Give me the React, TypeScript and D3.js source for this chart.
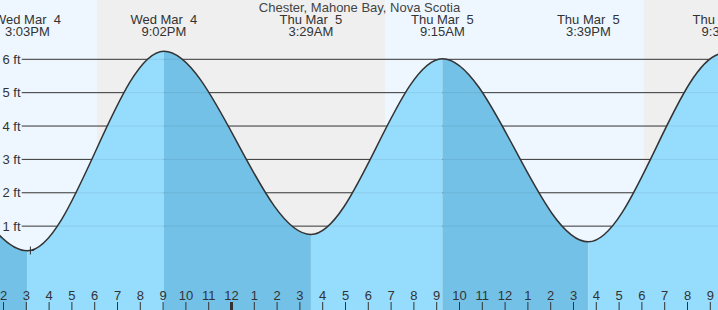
import React from "react";
import * as d3 from "d3";

// Tide extremes: time in hours after Wed Mar 4 00:00, height in ft
const extremeHours = [1.8, 8.0, 15.05, 21.033, 27.483, 33.25, 39.65, 45.6, 51.9];
const extremeHeights = [0.5, 6.0, 0.26, 6.24, 0.75, 6.02, 0.53, 6.18, 0.7];
const extremeDays = ["", "", "Wed Mar  4", "Wed Mar  4", "Thu Mar  5", "Thu Mar  5", "Thu Mar  5", "Thu Mar  5", ""];
const extremeLabels = ["", "", "3:03PM", "9:02PM", "3:29AM", "9:15AM", "3:39PM", "9:36PM", ""];

// sunset / sunrise boundaries (hours)
const sunEvents = [18.1, 30.73, 42.09];
const yTicks = [1, 2, 3, 4, 5, 6];
const hourTicks = d3.range(14, 46);
const nowHour = 15.18;

const title = "Chester, Mahone Bay, Nova Scotia";

const W = 718;
const H = 310;

export default function App() {
  const x = d3.scaleLinear().domain([14, 45]).range([3.5, 710.3]);
  const y = d3.scaleLinear().domain([0, 6]).range([259.5, 59.3]);

  const pts: [number, number][] = extremeHours.map((t, i) => [x(t), y(extremeHeights[i])]);
  const lineGen = d3.line().curve(d3.curveMonotoneX);
  const areaGen = d3.area().curve(d3.curveMonotoneX).y0(H);
  const linePath = lineGen(pts) || "";
  const areaPath = areaGen(pts) || "";

  // day/night bands
  const bands: { x0: number; x1: number; night: boolean }[] = [];
  const bounds = [-1000, ...sunEvents.map((s) => x(s)), 2000];
  for (let i = 0; i < bounds.length - 1; i++) {
    bands.push({ x0: bounds[i], x1: bounds[i + 1], night: i % 2 === 1 });
  }

  // water segments (falling darker)
  const segs = extremeHours.slice(0, -1).map((t, i) => ({
    x0: x(t),
    x1: x(extremeHours[i + 1]),
    falling: extremeHeights[i + 1] < extremeHeights[i],
  }));

  const font = "'Liberation Sans', Arial, Helvetica, sans-serif";
  const textColor = "#333";
  const nowX = x(nowHour);
  // height at now (near the low)
  const nowY = y(0.27);

  return (
    <svg width={W} height={H} style={{ position: "absolute", left: 0, top: 0, display: "block" }}>
      <defs>
        <clipPath id="water">
          <path d={areaPath} />
        </clipPath>
      </defs>
      {bands.map((b, i) => (
        <rect key={i} x={b.x0} y={0} width={b.x1 - b.x0} height={H} fill={b.night ? "#efefef" : "#eef7ff"} />
      ))}
      {yTicks.map((v) => (
        <line key={v} x1={21.7} x2={W} y1={y(v)} y2={y(v)} stroke="#333" strokeWidth={1} />
      ))}
      <g clipPath="url(#water)">
        {segs.map((s, i) => (
          <rect key={i} x={s.x0} y={0} width={s.x1 - s.x0} height={H} fill={s.falling ? "#73c1e6" : "#96dcfd"} />
        ))}
        {yTicks.map((v) => (
          <line key={v} x1={21.7} x2={W} y1={y(v)} y2={y(v)} stroke="#000" strokeOpacity={0.07} strokeWidth={1} />
        ))}
      </g>
      <path d={linePath} fill="none" stroke="#333" strokeWidth={1.5} />
      {/* now marker */}
      <line x1={nowX - 3.5} x2={nowX + 3.5} y1={nowY} y2={nowY} stroke="#333" strokeWidth={1} />
      <line x1={nowX} x2={nowX} y1={nowY - 4} y2={nowY + 4} stroke="#333" strokeWidth={1} />
      {/* y labels */}
      {yTicks.map((v) => (
        <text key={v} x={2.5} y={y(v) + 4.7} fontFamily={font} fontSize={13} fill={textColor}>
          {`${v} ft`}
        </text>
      ))}
      {/* title */}
      <text x={359.5} y={12} textAnchor="middle" fontFamily={font} fontSize={13} fill="#444">
        {title}
      </text>
      {/* extreme labels */}
      {extremeHours.map((t, i) =>
        extremeLabels[i] ? (
          <g key={i}>
            <text x={x(t)} y={23.5} textAnchor="middle" fontFamily={font} fontSize={13} fill={textColor} style={{ whiteSpace: "pre" }}>
              {extremeDays[i]}
            </text>
            <text x={x(t)} y={35.8} textAnchor="middle" fontFamily={font} fontSize={13} fill={textColor}>
              {extremeLabels[i]}
            </text>
          </g>
        ) : null
      )}
      {/* hour axis */}
      {hourTicks.map((h) => {
        const hx = x(h);
        const lab = h % 12 === 0 ? 12 : h % 12;
        const midnight = h % 24 === 0;
        return (
          <g key={h}>
            <line x1={hx} x2={hx} y1={302} y2={H} stroke="#333" strokeWidth={midnight ? 3 : 1} />
            <text x={hx} y={300} textAnchor="middle" fontFamily={font} fontSize={13} fill={textColor}>
              {lab}
            </text>
          </g>
        );
      })}
    </svg>
  );
}
